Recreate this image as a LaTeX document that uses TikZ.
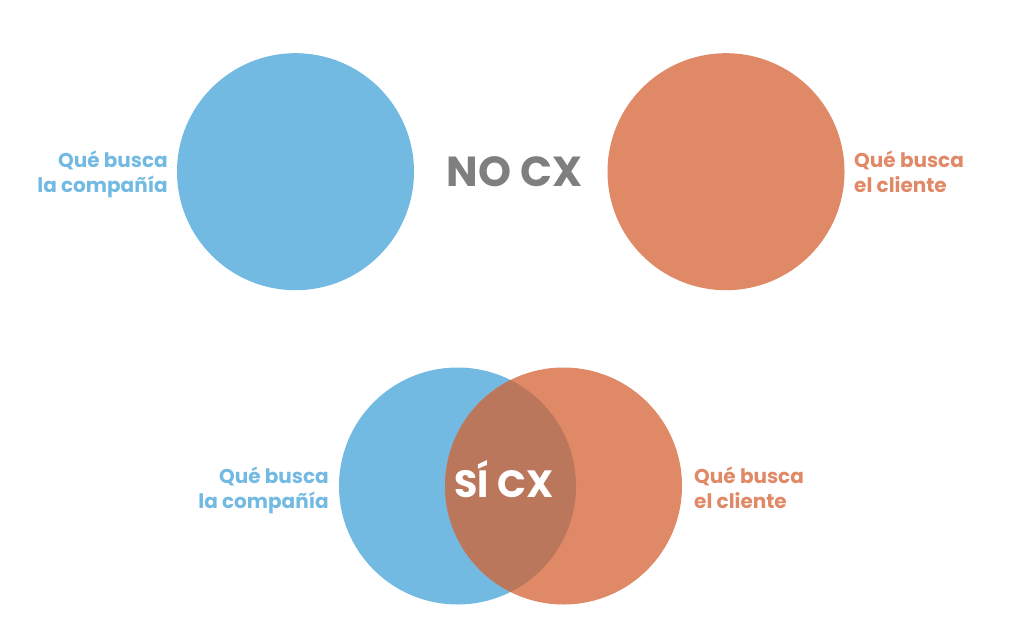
\documentclass[tikz,border=0pt]{standalone}
\usepackage{fontspec}
\setmainfont{Poppins}
\definecolor{cblue}{HTML}{73BAE2}
\definecolor{corange}{HTML}{E08966}
\definecolor{cover}{HTML}{BA775B}
\definecolor{cgray}{HTML}{7F7F7F}
\tikzset{
  disc/.style={circle, minimum size=237pt, inner sep=0pt},
  lbl/.style={font=\fontsize{20}{25}\selectfont\bfseries, inner sep=0pt},
  big/.style={font=\fontsize{42}{46}\selectfont\bfseries, inner sep=0pt},
}
\begin{document}
\begin{tikzpicture}[x=1pt,y=-1pt]
\useasboundingbox (0,0) rectangle (1024,636);
% top
\node[disc, fill=cblue] (tl) at (295.5,171.7) {};
\node[disc, fill=corange] (tr) at (726,171.7) {};
\node[big, text=cgray, anchor=base] (no) at (514.5,187) {NO CX};
\node[lbl, text=cblue, align=right, anchor=base east] (tlt) at (168,193) {Qué busca\\la compañía};
\node[lbl, text=corange, align=left, anchor=base west] (trt) at (854,193) {Qué busca\\el cliente};
% bottom
\node[disc, fill=cblue] (bl) at (457.5,486) {};
\node[disc, fill=corange] (br) at (563.5,486) {};
\begin{scope}
  \clip (bl.center) circle (118.5);
  \fill[cover] (br.center) circle (118.5);
\end{scope}
\node[big, font=\fontsize{38}{42}\selectfont\bfseries, text=white, anchor=base] (si) at (504,497) {SÍ CX};
\node[lbl, text=cblue, align=right, anchor=base east] (blt) at (329,508) {Qué busca\\la compañía};
\node[lbl, text=corange, align=left, anchor=base west] (brt) at (694,508) {Qué busca\\el cliente};
\end{tikzpicture}
\end{document}
